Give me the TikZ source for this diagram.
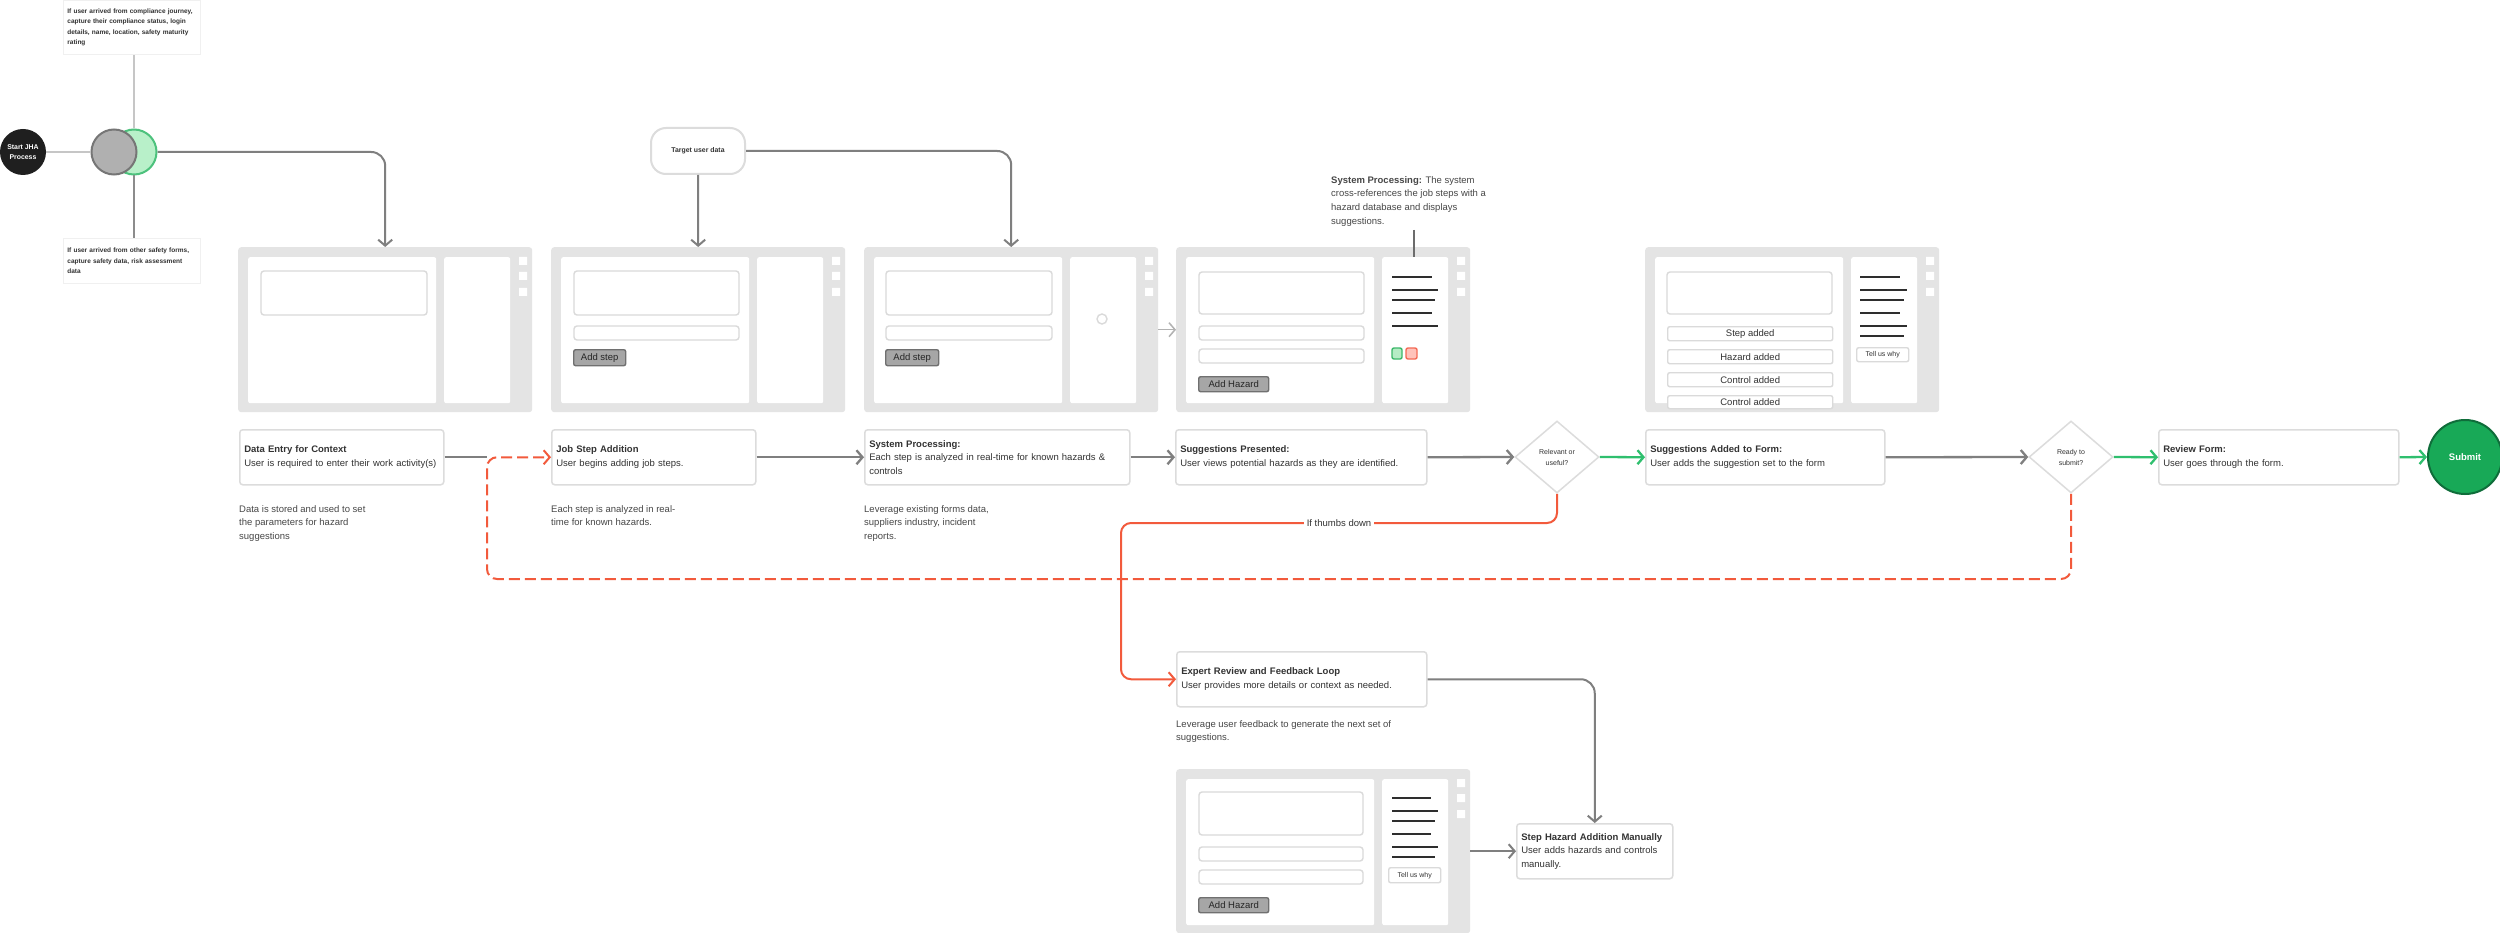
\documentclass[tikz,border=0pt]{standalone}
\usepackage{fontspec}
\setmainfont{Liberation Sans}
\usetikzlibrary{arrows.meta,shapes.geometric}
\definecolor{pgray}{HTML}{E4E4E4}
\definecolor{fborder}{HTML}{DADADA}
\definecolor{bborder}{HTML}{DCDCDC}
\definecolor{agray}{HTML}{7F7F7F}
\definecolor{lgray}{HTML}{C6C6C6}
\definecolor{ared}{HTML}{F25A3C}
\definecolor{agreen}{HTML}{2FBF6E}
\definecolor{txt}{HTML}{333333}
\definecolor{btnfill}{HTML}{A6A6A6}
\definecolor{btndraw}{HTML}{707070}
\definecolor{sqgreen}{HTML}{B5ECC5}
\definecolor{sqgreenb}{HTML}{3CB86A}
\definecolor{sqred}{HTML}{FFC2BA}
\definecolor{sqredb}{HTML}{F46A55}
\definecolor{subfill}{HTML}{18A957}
\definecolor{subdraw}{HTML}{0F6D3A}
\definecolor{gcfill}{HTML}{B0B0B0}
\definecolor{gcdraw}{HTML}{767676}
\definecolor{grfill}{HTML}{B8F0C9}
\definecolor{grdraw}{HTML}{4DC27D}
\hyphenpenalty=10000
\newcommand{\fsz}[2]{\fontsize{#1}{#2}\selectfont}
\newcommand{\panelbase}[4]{%
  \node[fill=pgray, rounded corners=3pt, minimum width=294pt, minimum height=#4pt, inner sep=0pt, anchor=north west] (#1) at (#2,#3) {};
  \begin{scope}[shift={(#2,#3)}]
    \node[pwhite, minimum width=188pt, minimum height=146pt] (#1L) at (10,10) {};
    \node[pwhite, minimum width=66pt, minimum height=146pt] (#1R) at (206,10) {};
    \fill[white] (281,10) rectangle (289,18) (281,25) rectangle (289,33) (281,41) rectangle (289,49);
  \end{scope}}
\begin{document}
\begin{tikzpicture}[x=1pt,y=-1pt,
  >={Straight Barb[length=6pt,width=14pt]},
  pwhite/.style={fill=white, rounded corners=2pt, anchor=north west, inner sep=0pt},
  field/.style={draw=fborder, line width=1.4pt, rounded corners=3pt, fill=white},
  btn/.style={fill=btnfill, draw=btndraw, line width=1.4pt, rounded corners=2pt, anchor=north west, inner sep=0pt, font=\fsz{9.5}{11}, text=black!85},
  row/.style={draw=fborder, line width=1.4pt, rounded corners=2pt, fill=white, anchor=north west, inner sep=0pt, font=\fsz{9.5}{11}, text=txt},
  hl/.style={line width=1.6pt, draw=black!82},
  stepbox/.style={draw=bborder, line width=1.5pt, fill=white, rounded corners=3pt, anchor=north west, inner xsep=4.5pt, inner ysep=0pt, align=left, minimum height=55pt, font=\fsz{9.5}{13.6}, text=txt},
  notetext/.style={anchor=north west, inner sep=0pt, align=left, font=\fsz{9.5}{13.8}, text=txt!90},
  smallnote/.style={draw=black!6, line width=0.8pt, fill=white, anchor=north west, inner xsep=4pt, align=left, font=\bfseries\fsz{6.5}{10.5}, text=txt},
  garrow/.style={->, draw=agray, line width=2.3pt},
  thin/.style={->, draw=agray, line width=2pt, rounded corners=14pt},
  greenarrow/.style={->, draw=agreen, line width=2.3pt},
  redarrow/.style={->, draw=ared, line width=2pt, rounded corners=10pt},
  dia/.style={diamond, draw=bborder, line width=1.5pt, fill=white, minimum width=84pt, minimum height=72pt, inner sep=0pt, align=center, font=\fsz{7}{11}, text=txt}
]
\useasboundingbox (0,0) rectangle (2500,933);
\fill[white] (0,0) rectangle (2500,933);

% ---------- start area ----------
\node[smallnote, minimum width=137pt, minimum height=54pt, text width=129pt] (topnote) at (63,0)
  {If user arrived from compliance journey,\\capture their compliance status, login\\details, name, location, safety maturity\\rating};
\node[smallnote, minimum width=137pt, minimum height=45pt, text width=129pt] (botnote) at (63,238)
  {If user arrived from other safety forms,\\capture safety data, risk assessment\\data};
\node[circle, fill=black!88, minimum size=46pt, inner sep=0pt, align=center, text=white, font=\bfseries\fsz{6.9}{10}] (start) at (23,152) {Start JHA\\Process};
\node[circle, fill=grfill, draw=grdraw, line width=2pt, minimum size=45pt, inner sep=0pt] (gr) at (134,152) {};
\node[circle, fill=gcfill, draw=gcdraw, line width=2pt, minimum size=45pt, inner sep=0pt] (gc) at (114,152) {};
\draw[lgray, line width=2pt] (start.east) -- (gc.west);
\draw[lgray, line width=2pt] (gr.north) -- (gr.north |- topnote.south);
\draw[agray!90, line width=2pt] (gr.south) -- (gr.south |- botnote.north);

% ---------- target user data ----------
\node[draw=bborder, line width=2pt, rounded corners=15pt, minimum width=94pt, minimum height=46pt, inner sep=0pt, font=\bfseries\fsz{6.9}{9}, text=txt] (tud) at (698,151) {Target user data};

% ---------- panels ----------
\panelbase{p1}{238}{247}{165}
\panelbase{p2}{551}{247}{165}
\panelbase{p3}{864}{247}{165}
\panelbase{p4}{1176}{247}{165}
\panelbase{p5}{1645}{247}{165}
\panelbase{p6}{1176}{769}{164}

\begin{scope}[shift={(238,247)}]
  \draw[field] (23,24) rectangle (189,68);
\end{scope}
\begin{scope}[shift={(551,247)}]
  \draw[field] (23,24) rectangle (188,68);
  \draw[field] (23,79) rectangle (188,93);
  \node[btn, minimum width=52pt, minimum height=16pt] (b2btn) at (22,102) {Add step};
\end{scope}
\begin{scope}[shift={(864,247)}]
  \draw[field] (22,24) rectangle (188,68);
  \draw[field] (22,79) rectangle (188,93);
  \node[btn, minimum width=53pt, minimum height=16pt] (b3btn) at (21,102) {Add step};
  \draw[fborder, line width=1.4pt] (238,72) circle (5);
\end{scope}
\begin{scope}[shift={(1176,247)}]
  \draw[field] (23,25) rectangle (188,67);
  \draw[field] (23,79) rectangle (188,93);
  \draw[field] (23,102) rectangle (188,116);
  \node[btn, minimum width=70pt, minimum height=15pt] (b4btn) at (22,129) {Add Hazard};
  \draw[hl] (216,30) -- (256,30);
  \draw[hl] (216,43) -- (262,43);
  \draw[hl] (216,53) -- (259,53);
  \draw[hl] (216,66) -- (256,66);
  \draw[hl] (216,79) -- (262,79);
  \draw[draw=sqgreenb, fill=sqgreen, line width=1.4pt, rounded corners=2pt] (216,101) rectangle (226,112);
  \draw[draw=sqredb, fill=sqred, line width=1.4pt, rounded corners=2pt] (230,101) rectangle (241,112);
\end{scope}
\begin{scope}[shift={(1645,247)}]
  \draw[field] (22,25) rectangle (187,67);
  \node[row, minimum width=165pt, minimum height=14pt] (r1) at (22,79) {Step added};
  \node[row, minimum width=165pt, minimum height=14pt] (r2) at (22,102) {Hazard added};
  \node[row, minimum width=165pt, minimum height=14pt] (r3) at (22,125) {Control added};
  \node[row, minimum width=165pt, minimum height=13pt] (r4) at (22,148) {Control added};
  \draw[hl] (215,30) -- (255,30);
  \draw[hl] (215,43) -- (262,43);
  \draw[hl] (215,53) -- (259,53);
  \draw[hl] (215,66) -- (255,66);
  \draw[hl] (215,79) -- (262,79);
  \draw[hl] (215,89) -- (259,89);
  \node[row, font=\fsz{7}{9}, minimum width=52pt, minimum height=14pt] (tw1) at (211,100) {Tell us why};
\end{scope}
\begin{scope}[shift={(1176,769)}]
  \draw[field] (23,23) rectangle (187,66);
  \draw[field] (23,78) rectangle (187,92);
  \draw[field] (23,101) rectangle (187,115);
  \node[btn, minimum width=70pt, minimum height=15pt] (b6btn) at (22,128) {Add Hazard};
  \draw[hl] (216,29) -- (255,29);
  \draw[hl] (216,42) -- (262,42);
  \draw[hl] (216,52) -- (259,52);
  \draw[hl] (216,65) -- (255,65);
  \draw[hl] (216,78) -- (262,78);
  \draw[hl] (216,88) -- (259,88);
  \node[row, font=\fsz{7}{9}, minimum width=52pt, minimum height=15pt] (tw2) at (212,98) {Tell us why};
\end{scope}

% ---------- system processing note ----------
\node[notetext] (sysnote) at (1331,176) {\textbf{System Processing:} The system\\cross-references the job steps with a\\hazard database and displays\\suggestions.};
\coordinate (sysline) at (1414,230);
\draw[agray!85!black, line width=1.8pt] (sysline) -- (sysline |- p4R.north);

% ---------- step boxes ----------
\node[stepbox, text width=195pt] (b1) at (239,429) {\textbf{Data Entry for Context}\\User is required to enter their work activity(s)};
\node[stepbox, text width=195pt] (b2) at (551,429) {\textbf{Job Step Addition}\\User begins adding job steps.};
\node[stepbox, text width=256pt] (b3) at (864,429) {\textbf{System Processing:}\\Each step is analyzed in real-time for known hazards \&\\controls};
\node[stepbox, text width=242pt] (b4) at (1175,429) {\textbf{Suggestions Presented:}\\User views potential hazards as they are identified.};
\node[dia] (d1) at (1557,457) {Relevant or\\useful?};
\node[stepbox, text width=230pt] (b5) at (1645,429) {\textbf{Suggestions Added to Form:}\\User adds the suggestion set to the form};
\node[dia] (d2) at (2071,457) {Ready to\\submit?};
\node[stepbox, text width=231pt] (b6) at (2158,429) {\textbf{Review Form:}\\User goes through the form.};
\node[circle, fill=subfill, draw=subdraw, line width=2pt, minimum size=74pt, inner sep=0pt, text=white, font=\bfseries\fsz{9.5}{11}] (submit) at (2465,457) {Submit};
\node[stepbox, text width=241pt] (ex) at (1176,651) {\textbf{Expert Review and Feedback Loop}\\User provides more details or context as needed.};
\node[stepbox, text width=147pt] (sh) at (1516,823) {\textbf{Step Hazard Addition Manually}\\User adds hazards and controls\\manually.};

% ---------- notes ----------
\node[notetext] (n1) at (239,505) {Data is stored and used to set\\the parameters for hazard\\suggestions};
\node[notetext] (n2) at (551,505) {Each step is analyzed in real-\\time for known hazards.};
\node[notetext] (n3) at (864,505) {Leverage existing forms data,\\suppliers industry, incident\\reports.};
\node[notetext] (n4) at (1176,720) {Leverage user feedback to generate the next set of\\suggestions.};

% ---------- connectors ----------
\draw[thin] (gr.east) -| (p1.north);
\draw[thin] (tud.south) -- (p2.north);
\draw[thin] (tud.east) -| (p3.north);
\draw[->, draw=black!30, line width=1.5pt] (p3.east) -- (p4.west);

\coordinate (loopBL) at (487,579);
\coordinate (tdc) at (1121,523);
\draw[agray, line width=2.3pt] (b1.east) -- (b1.east -| loopBL);
\draw[garrow] (b2.east) -- (b3.west);
\draw[garrow] (b3.east) -- (b4.west);
\draw[garrow] (b4.east) -- (d1.west);
\draw[greenarrow] (d1.east) -- (b5.west);
\draw[garrow] (b5.east) -- (d2.west);
\draw[greenarrow] (d2.east) -- (b6.west);
\draw[greenarrow] (b6.east) -- (submit.west);

\draw[redarrow, dash pattern=on 11pt off 5pt] (d2.south) |- (loopBL) |- (b2.west);
\draw[redarrow] (d1.south) |- (tdc) |- (ex.west);
\node[fill=white, inner xsep=3pt, inner ysep=1pt, font=\fsz{9.5}{11}, text=txt] (tdlab) at (1339,523) {If thumbs down};

\draw[thin] (ex.east) -| (sh.north);
\draw[thin] (p6.east) -- (p6.east -| sh.west);
\end{tikzpicture}
\end{document}
